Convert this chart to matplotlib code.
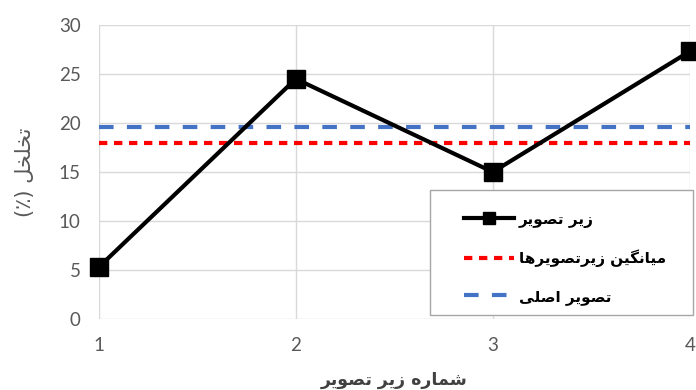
import matplotlib
matplotlib.use("Agg")
import matplotlib.pyplot as plt
from matplotlib.patches import Rectangle

# series values
sub_ids = [1, 2, 3, 4]
porosity = [5.3, 24.5, 15.0, 27.3]
mean_sub = 18.0
original = 19.6
y_ticks = [0, 5, 10, 15, 20, 25, 30]

label_line = "زیر تصویر"
label_mean = "میانگین زیرتصویرها"
label_orig = "تصویر اصلی"
x_title = "شماره زیر تصویر"
y_title = "تخلخل (٪)"

# contextual forms: isolated, final, initial, medial (None -> does not join forward)
FORMS = {
    "ا": ("\uFE8D", "\uFE8E", None, None),
    "ت": ("\uFE95", "\uFE96", "\uFE97", "\uFE98"),
    "خ": ("\uFEA5", "\uFEA6", "\uFEA7", "\uFEA8"),
    "ر": ("\uFEAD", "\uFEAE", None, None),
    "ز": ("\uFEAF", "\uFEB0", None, None),
    "ش": ("\uFEB5", "\uFEB6", "\uFEB7", "\uFEB8"),
    "ص": ("\uFEB9", "\uFEBA", "\uFEBB", "\uFEBC"),
    "ل": ("\uFEDD", "\uFEDE", "\uFEDF", "\uFEE0"),
    "م": ("\uFEE1", "\uFEE2", "\uFEE3", "\uFEE4"),
    "ن": ("\uFEE5", "\uFEE6", "\uFEE7", "\uFEE8"),
    "ه": ("\uFEE9", "\uFEEA", "\uFEEB", "\uFEEC"),
    "و": ("\uFEED", "\uFEEE", None, None),
    "ی": ("\uFEEF", "\uFEF0", "\uFEF3", "\uFEF4"),
    "گ": ("\uFB92", "\uFB93", "\uFB94", "\uFB95"),
}
MIRROR = {"(": ")", ")": "("}


def shape(text):
    out = []
    for i, ch in enumerate(text):
        if ch not in FORMS:
            out.append(ch)
            continue
        prev = text[i - 1] if i > 0 else ""
        nxt = text[i + 1] if i + 1 < len(text) else ""
        joins_prev = prev in FORMS and FORMS[prev][2] is not None
        joins_next = nxt in FORMS and FORMS[ch][2] is not None
        iso, fin, ini, med = FORMS[ch]
        if joins_prev and joins_next:
            out.append(med)
        elif joins_prev:
            out.append(fin)
        elif joins_next:
            out.append(ini)
        else:
            out.append(iso)
    return "".join(MIRROR.get(c, c) for c in reversed(out))


fig = plt.figure(figsize=(6.96, 3.90), dpi=100)
ax = fig.add_axes([0.142, 0.182, 0.849, 0.754])

ax.plot(sub_ids, porosity, color="black", lw=3, marker="s", ms=13,
        mfc="black", mec="black", mew=1, clip_on=False, zorder=4,
        label=shape(label_line))
ax.plot([sub_ids[0], sub_ids[-1]], [mean_sub, mean_sub], color="#ff0000", lw=3,
        ls=(0, (2.0, 1.6)), zorder=3, label=shape(label_mean))
ax.plot([sub_ids[0], sub_ids[-1]], [original, original], color="#4472c4", lw=3,
        ls=(0, (3.5, 3.2)), zorder=3, label=shape(label_orig))

ax.set_xlim(1, 4)
ax.set_ylim(0, 30)
ax.set_xticks(sub_ids)
ax.set_yticks(y_ticks)
ax.grid(True, color="#d9d9d9", lw=1)
ax.set_axisbelow(True)
for s in ax.spines.values():
    s.set_visible(False)
ax.tick_params(length=0, labelsize=13.5, labelcolor="#595959")
ax.tick_params(axis="y", pad=13)
ax.tick_params(axis="x", pad=13)
for t in ax.get_xticklabels() + ax.get_yticklabels():
    t.set_fontfamily("Lato")

ax.set_xlabel(shape(x_title), fontsize=12.5, fontweight="bold", color="#404040",
              family="DejaVu Sans", labelpad=12)
ax.set_ylabel(shape(y_title), fontsize=15, color="#595959",
              family="DejaVu Sans", labelpad=17)

# legend box with white fill, drawn separately from the entries
box = Rectangle((0.618, 0.192), 0.378, 0.321, transform=fig.transFigure,
                facecolor="white", edgecolor="#a6a6a6", lw=1, zorder=5,
                clip_on=False)
ax.add_patch(box)
leg = ax.legend(loc="center left", bbox_to_anchor=(0.655, 0.338),
                bbox_transform=fig.transFigure, frameon=False, borderpad=0,
                handlelength=3.3, handletextpad=0.3, labelspacing=1.42,
                markerscale=0.65,
                prop={"family": "DejaVu Sans", "weight": "bold", "size": 11})
leg.set_zorder(6)

fig.savefig("out.png", dpi=100)
